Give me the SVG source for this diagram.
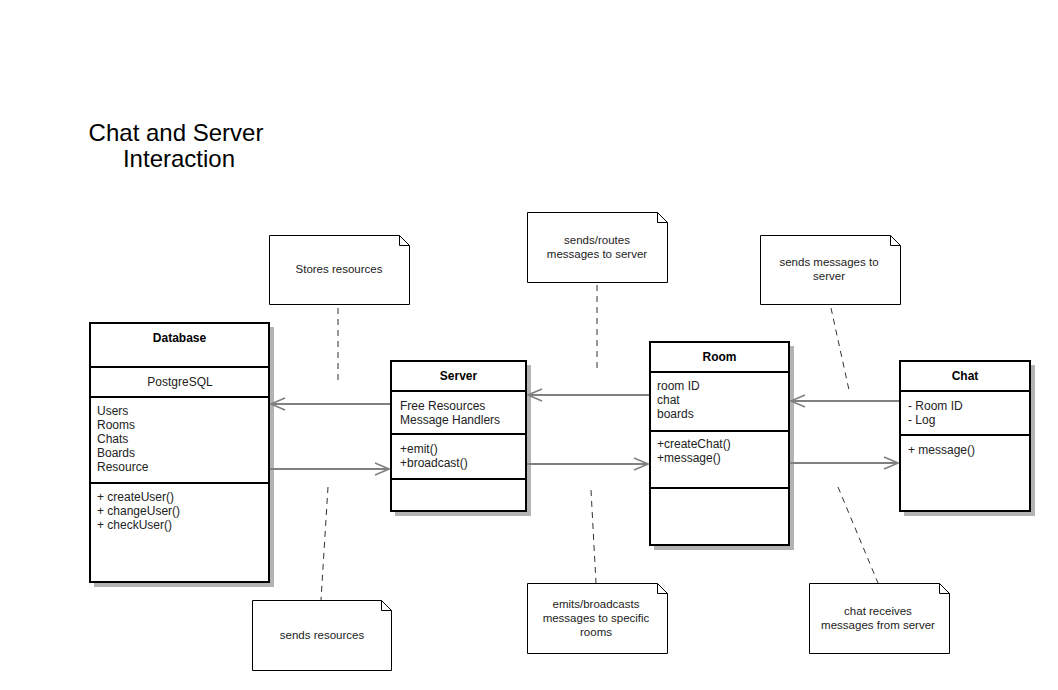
<svg xmlns="http://www.w3.org/2000/svg" width="1058" height="690" viewBox="0 0 1058 690">
  <style>
    .shadow { fill: #b3b3b3; }
    .box { fill: #ffffff; stroke: #000000; stroke-width: 2; }
    .div { stroke: #000000; stroke-width: 2; }
    .title { font-family: "Liberation Sans", Arial, sans-serif; font-size: 12px; font-weight: bold; fill: #000000; }
    .txt { font-family: "Liberation Sans", Arial, sans-serif; font-size: 12px; fill: #222222; }
    .note { fill: #ffffff; stroke: #000000; stroke-width: 1; }
    .ntxt { font-family: "Liberation Sans", Arial, sans-serif; font-size: 11.5px; fill: #222222; text-anchor: middle; }
    .dash { stroke: #333333; stroke-width: 1; stroke-dasharray: 6 5; fill: none; }
    .link { stroke: #808080; stroke-width: 2; fill: none; marker-end: url(#open); }
    .heading { font-family: "Liberation Sans", Arial, sans-serif; font-size: 24px; fill: #000000; text-anchor: middle; }
  </style>
  <defs>
    <marker id="open" viewBox="0 0 16 14" refX="15" refY="7" markerWidth="16" markerHeight="14" markerUnits="userSpaceOnUse" orient="auto">
      <path d="M1,1 L15,7 L1,13" fill="none" stroke="#808080" stroke-width="1.5"/>
    </marker>
  </defs>

  <rect width="1058" height="690" fill="#ffffff"/>

  <text class="heading" x="176" y="141">Chat and Server</text>
  <text class="heading" x="179" y="167">Interaction</text>

  <!-- Database class -->
  <g id="database">
    <rect class="shadow" x="94" y="327" width="180" height="260"/>
    <rect class="box" x="90" y="323" width="179" height="259"/>
    <line class="div" x1="90" y1="367" x2="269" y2="367"/>
    <line class="div" x1="90" y1="397" x2="269" y2="397"/>
    <line class="div" x1="90" y1="483" x2="269" y2="483"/>
    <text class="title" x="179.500" y="342" text-anchor="middle">Database</text>
    <text class="txt" x="180" y="386" text-anchor="middle">PostgreSQL</text>
    <text class="txt" x="97" y="415">Users</text>
    <text class="txt" x="97" y="429">Rooms</text>
    <text class="txt" x="97" y="443">Chats</text>
    <text class="txt" x="97" y="457">Boards</text>
    <text class="txt" x="97" y="471">Resource</text>
    <text class="txt" x="97" y="501">+ createUser()</text>
    <text class="txt" x="97" y="515">+ changeUser()</text>
    <text class="txt" x="97" y="529">+ checkUser()</text>
  </g>

  <!-- Server class -->
  <g id="server">
    <rect class="shadow" x="395" y="365" width="136" height="151"/>
    <rect class="box" x="391" y="361" width="135" height="150"/>
    <line class="div" x1="391" y1="391" x2="526" y2="391"/>
    <line class="div" x1="391" y1="434" x2="526" y2="434"/>
    <line class="div" x1="391" y1="479" x2="526" y2="479"/>
    <text class="title" x="458.500" y="380" text-anchor="middle">Server</text>
    <text class="txt" x="400" y="410">Free Resources</text>
    <text class="txt" x="400" y="424">Message Handlers</text>
    <text class="txt" x="400" y="453">+emit()</text>
    <text class="txt" x="400" y="467">+broadcast()</text>
  </g>

  <!-- Room class -->
  <g id="room">
    <rect class="shadow" x="654" y="346" width="140" height="204"/>
    <rect class="box" x="650" y="342" width="139" height="203"/>
    <line class="div" x1="650" y1="372" x2="789" y2="372"/>
    <line class="div" x1="650" y1="431" x2="789" y2="431"/>
    <line class="div" x1="650" y1="488" x2="789" y2="488"/>
    <text class="title" x="719.500" y="361" text-anchor="middle">Room</text>
    <text class="txt" x="657" y="390">room ID</text>
    <text class="txt" x="657" y="404">chat</text>
    <text class="txt" x="657" y="418">boards</text>
    <text class="txt" x="657" y="448">+createChat()</text>
    <text class="txt" x="657" y="462">+message()</text>
  </g>

  <!-- Chat class -->
  <g id="chat">
    <rect class="shadow" x="904" y="365" width="131" height="151"/>
    <rect class="box" x="900" y="361" width="130" height="150"/>
    <line class="div" x1="900" y1="391" x2="1030" y2="391"/>
    <line class="div" x1="900" y1="435" x2="1030" y2="435"/>
    <text class="title" x="965" y="380" text-anchor="middle">Chat</text>
    <text class="txt" x="908" y="410">- Room ID</text>
    <text class="txt" x="908" y="424">- Log</text>
    <text class="txt" x="908" y="454">+ message()</text>
  </g>

  <!-- Notes -->
  <g id="note-stores">
    <path class="note" d="M269.500,235.500 H399.500 L409.500,245.500 V304.500 H269.500 Z M399.500,235.500 V245.500 H409.500"/>
    <text class="ntxt" x="339" y="273">Stores resources</text>
  </g>
  <g id="note-routes">
    <path class="note" d="M527.500,212.500 H657.500 L667.500,222.500 V282.500 H527.500 Z M657.500,212.500 V222.500 H667.500"/>
    <text class="ntxt" x="597" y="244">sends/routes</text>
    <text class="ntxt" x="597" y="258">messages to server</text>
  </g>
  <g id="note-sends-msg">
    <path class="note" d="M760.500,235.500 H890.500 L900.500,245.500 V304.500 H760.500 Z M890.500,235.500 V245.500 H900.500"/>
    <text class="ntxt" x="829" y="266">sends messages to</text>
    <text class="ntxt" x="829" y="280">server</text>
  </g>
  <g id="note-sends-res">
    <path class="note" d="M252.500,600.500 H381.500 L391.500,610.500 V670.500 H252.500 Z M381.500,600.500 V610.500 H391.500"/>
    <text class="ntxt" x="322" y="639">sends resources</text>
  </g>
  <g id="note-emits">
    <path class="note" d="M527.500,583.500 H657.500 L667.500,593.500 V653.500 H527.500 Z M657.500,583.500 V593.500 H667.500"/>
    <text class="ntxt" x="596" y="608">emits/broadcasts</text>
    <text class="ntxt" x="596" y="622">messages to specific</text>
    <text class="ntxt" x="596" y="636">rooms</text>
  </g>
  <g id="note-receives">
    <path class="note" d="M809.500,583.500 H939.500 L949.500,593.500 V653.500 H809.500 Z M939.500,583.500 V593.500 H949.500"/>
    <text class="ntxt" x="878" y="615">chat receives</text>
    <text class="ntxt" x="878" y="629">messages from server</text>
  </g>

  <!-- Connectors -->
  <g id="connectors">
    <line class="link" x1="390" y1="404" x2="271" y2="404"/>
    <line class="link" x1="270" y1="469" x2="389" y2="469"/>
    <line class="link" x1="649" y1="395" x2="528" y2="395"/>
    <line class="link" x1="527" y1="464" x2="648" y2="464"/>
    <line class="link" x1="899" y1="401" x2="791" y2="401"/>
    <line class="link" x1="790" y1="463" x2="898" y2="463"/>
    <line class="dash" x1="338" y1="308" x2="338" y2="385"/>
    <line class="dash" x1="597" y1="285" x2="597" y2="368"/>
    <line class="dash" x1="831" y1="308" x2="849" y2="390"/>
    <line class="dash" x1="328" y1="487" x2="321" y2="600"/>
    <line class="dash" x1="591" y1="490" x2="596" y2="583"/>
    <line class="dash" x1="838" y1="487" x2="878" y2="583"/>
  </g>
</svg>
